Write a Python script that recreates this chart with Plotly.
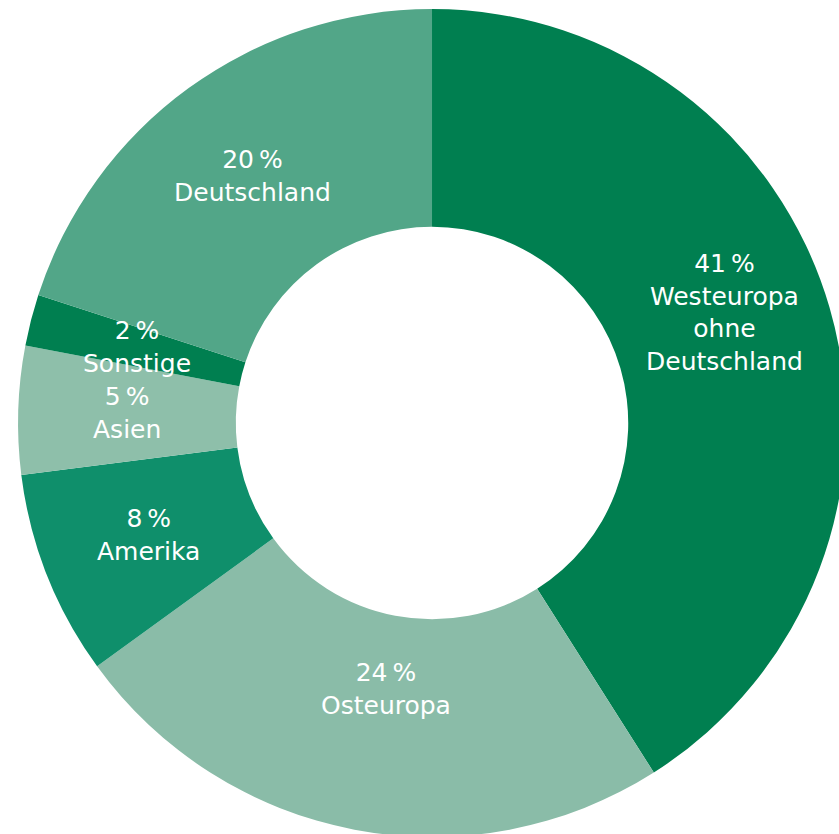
import math
import plotly.graph_objects as go

# ---- data ----
regions = ["Westeuropa ohne Deutschland", "Osteuropa", "Amerika", "Asien", "Sonstige", "Deutschland"]
label_lines = ["Westeuropa<br>ohne<br>Deutschland", "Osteuropa", "Amerika", "Asien", "Sonstige", "Deutschland"]
shares = [41, 24, 8, 5, 2, 20]

# ---- style ----
colors = ["#007f50", "#8abca8", "#0f8f6b", "#8ebfaa", "#007f50", "#52a688"]
label_shift = [(0, 25), (11, 34), (0, 0), (0, 0), (0, 0), (0, 0)]  # pixel nudges (x, y)

W, H = 850, 845
HOLE = 0.474
dom_x = [0.0212, 0.9953]
dom_y = [0.0095, 0.9893]

fig = go.Figure(go.Pie(
    labels=regions,
    values=shares,
    sort=False,
    direction="clockwise",
    rotation=0,
    hole=HOLE,
    marker=dict(colors=colors, line=dict(width=0)),
    textinfo="none",
    hoverinfo="skip",
    domain=dict(x=dom_x, y=dom_y),
    showlegend=False,
))

# geometry of the pie in pixels (derived from layout/domain)
px0, px1 = dom_x[0] * W, dom_x[1] * W
py0, py1 = (1 - dom_y[1]) * H, (1 - dom_y[0]) * H
R = min(px1 - px0, py1 - py0) / 2
cx, cy = (px0 + px1) / 2, (py0 + py1) / 2
rmid = R * (1 + HOLE) / 2

total = sum(shares)
cum = 0
annotations = []
for v, lab, (dx, dy) in zip(shares, label_lines, label_shift):
    theta = 2 * math.pi * (cum + v / 2) / total
    cum += v
    x = cx + rmid * math.sin(theta)
    y = cy - rmid * math.cos(theta)
    annotations.append(dict(
        x=x / W, y=1 - y / H, xref="paper", yref="paper",
        text=f"{v}\u2009%<br>{lab}", showarrow=False,
        xanchor="center", yanchor="middle", align="center",
        xshift=dx, yshift=dy,
        font=dict(family="DejaVu Sans", size=25, color="white"),
    ))

fig.update_layout(
    width=W, height=H,
    margin=dict(l=0, r=0, t=0, b=0),
    paper_bgcolor="white",
    plot_bgcolor="white",
    annotations=annotations,
)

fig.write_html(
    "out.html",
    config={"displayModeBar": False},
    post_script="document.documentElement.style.overflow='hidden';document.body.style.overflow='hidden';document.body.style.margin='0';",
)
